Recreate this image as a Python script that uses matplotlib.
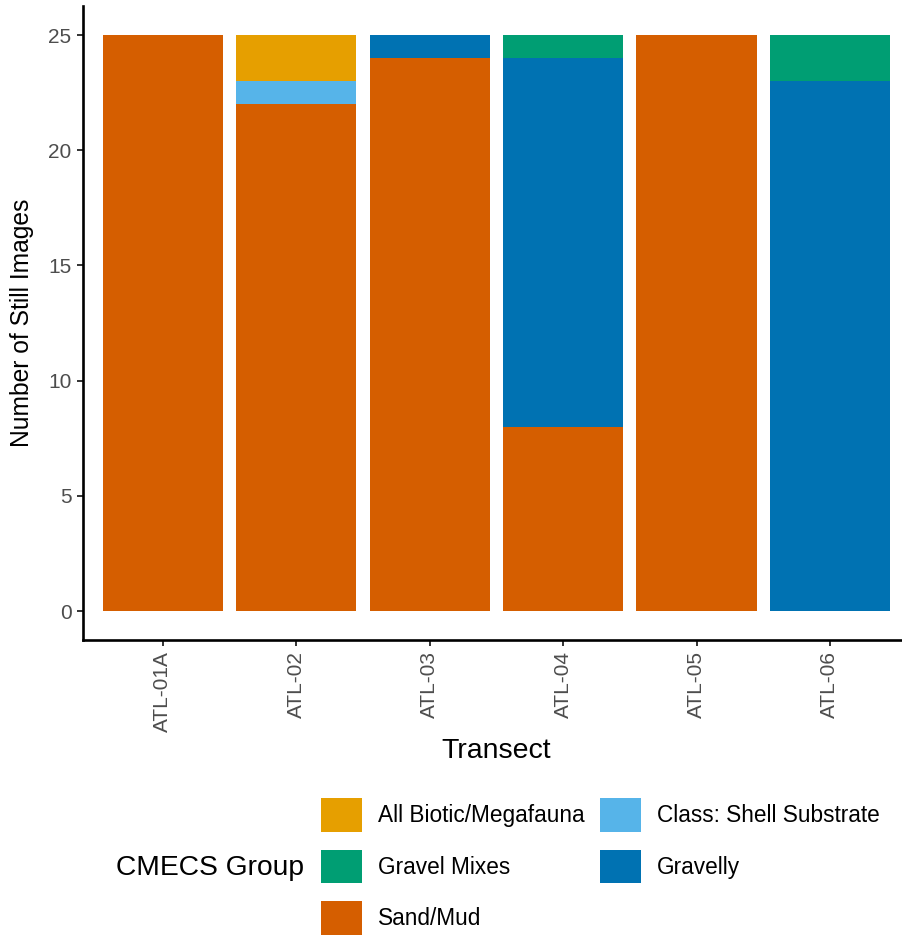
import numpy as np
import matplotlib
matplotlib.use("Agg")
import matplotlib.pyplot as plt
from matplotlib.patches import Patch

plt.rcParams['font.family'] = ['Liberation Sans', 'DejaVu Sans']

# data
transects = ["ATL-01A", "ATL-02", "ATL-03", "ATL-04", "ATL-05", "ATL-06"]
# stacked from bottom to top
groups = ["Sand/Mud", "Gravelly", "Gravel Mixes", "Class: Shell Substrate", "All Biotic/Megafauna"]
sand_mud = [25, 22, 24, 8, 25, 0]
gravelly = [0, 0, 1, 16, 0, 23]
gravel_mixes = [0, 0, 0, 1, 0, 2]
shell = [0, 1, 0, 0, 0, 0]
biotic = [0, 2, 0, 0, 0, 0]
colors = {
    "All Biotic/Megafauna": "#E69F00",
    "Class: Shell Substrate": "#56B4E9",
    "Gravel Mixes": "#009E73",
    "Gravelly": "#0072B2",
    "Sand/Mud": "#D55E00",
}
counts = [sand_mud, gravelly, gravel_mixes, shell, biotic]

fig = plt.figure(figsize=(9.02, 9.36), dpi=100)
ax = fig.add_axes([82.7 / 902, 1 - 640 / 936, (910 - 82.7) / 902, (640 - 6.2) / 936])

x = np.arange(1, len(transects) + 1)
bottom = np.zeros(len(transects))
for name, vals in zip(groups, counts):
    vals = np.array(vals, dtype=float)
    ax.bar(x, vals, width=0.9, bottom=bottom, color=colors[name], linewidth=0)
    bottom += vals

ax.set_xlim(0.4, 6.6)
ax.set_ylim(-1.25, 26.25)
ax.set_xticks(x)
ax.set_xticklabels(transects, rotation=90, va="top", ha="center")
ax.set_yticks([0, 5, 10, 15, 20, 25])

ax.spines["top"].set_visible(False)
ax.spines["right"].set_visible(False)
for s in ["left", "bottom"]:
    ax.spines[s].set_linewidth(1.9)
    ax.spines[s].set_color("black")
ax.tick_params(axis="both", length=4.5, width=1.4, color="#333333",
               labelcolor="#4D4D4D", labelsize=15, pad=3.5)

ax.set_xlabel("Transect", fontsize=20.5, labelpad=4)
ax.set_ylabel("Number of Still Images", fontsize=17.7, labelpad=10)

# legend, filled row-wise like ggplot (2 columns)
legend_order = ["All Biotic/Megafauna", "Gravel Mixes", "Sand/Mud",
                "Class: Shell Substrate", "Gravelly"]
handles = [Patch(facecolor=colors[n], edgecolor="none") for n in legend_order]
fig.legend(handles, legend_order, ncol=2, loc="upper left",
           bbox_to_anchor=(321 / 902, 1 - 798 / 936), frameon=False,
           fontsize=16.3, handlelength=1.81, handleheight=1.9,
           handletextpad=0.72, columnspacing=0.66, labelspacing=0.8,
           borderpad=0, borderaxespad=0)
fig.text(116 / 902, 1 - 868 / 936, "CMECS Group", fontsize=20.3, va="center", ha="left")

fig.savefig("out.png", dpi=100)
